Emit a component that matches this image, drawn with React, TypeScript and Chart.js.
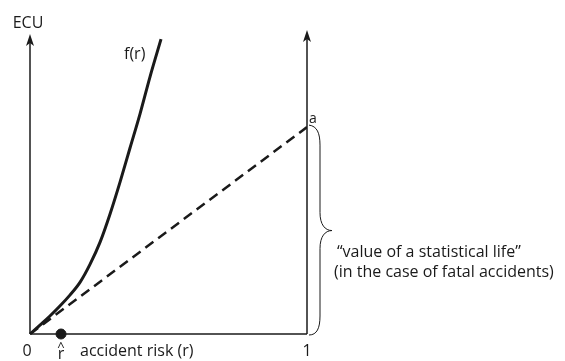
import React, { useEffect, useRef } from "react";
import { Chart, registerables } from "chart.js";

Chart.register(...registerables);

// accident risk r (0..1) and f(r) in ECU (value at r = 1 of the dashed line is "a")
const curveR = [0, 0.036, 0.072, 0.108, 0.144, 0.181, 0.217, 0.253, 0.289, 0.325, 0.361, 0.397, 0.433, 0.473];
const curveF = [0, 0.043, 0.087, 0.135, 0.188, 0.251, 0.338, 0.444, 0.58, 0.734, 0.899, 1.063, 1.242, 1.425];
const lineR = [0, 1];
const lineV = [0, 1.0];
const rHat = [0.112];
const yMax = 1.45;

const FONT = '"Open Sans", "Lato", sans-serif';
const INK = "#1a1a1a";

const decor = {
  id: "decor",
  afterDatasetsDraw(chart: any) {
    const { ctx, chartArea, scales } = chart;
    const L = chartArea.left;
    const R = chartArea.right;
    const B = chartArea.bottom;
    const T = chartArea.top;
    ctx.save();
    ctx.strokeStyle = INK;
    ctx.fillStyle = INK;
    ctx.lineWidth = 1.5;
    ctx.lineCap = "butt";

    const arrow = (x: number, y0: number, tip: number) => {
      ctx.beginPath();
      ctx.moveTo(x, y0);
      ctx.lineTo(x, tip + 6);
      ctx.stroke();
      ctx.beginPath();
      ctx.moveTo(x, tip);
      ctx.lineTo(x - 4, tip + 12);
      ctx.lineTo(x, tip + 9);
      ctx.lineTo(x + 4, tip + 12);
      ctx.closePath();
      ctx.fill();
    };
    arrow(L, B, T);
    arrow(R, B, T - 4);
    ctx.beginPath();
    ctx.moveTo(L, B);
    ctx.lineTo(R, B);
    ctx.stroke();

    // brace from a down to 0
    const yA = scales.y.getPixelForValue(lineV[1]);
    const yM = (yA + B) / 2;
    ctx.lineWidth = 1;
    ctx.beginPath();
    ctx.moveTo(R + 2, yA - 2);
    ctx.bezierCurveTo(R + 10, yA - 1, R + 13, yA + 6, R + 13, yA + 18);
    ctx.lineTo(R + 13, yM - 18);
    ctx.bezierCurveTo(R + 13, yM - 6, R + 18, yM, R + 25, yM);
    ctx.bezierCurveTo(R + 18, yM, R + 13, yM + 6, R + 13, yM + 18);
    ctx.lineTo(R + 13, B - 18);
    ctx.bezierCurveTo(R + 13, B - 6, R + 10, B + 1, R + 2, B + 1);
    ctx.stroke();

    // texts
    ctx.textBaseline = "alphabetic";
    ctx.textAlign = "center";
    ctx.font = `16px ${FONT}`;
    ctx.fillText("ECU", L - 2, 28);
    ctx.fillText("0", L - 3, 356);
    ctx.fillText("1", R, 356);
    const xr = scales.x.getPixelForValue(rHat[0]);
    ctx.fillText("r", xr, 359);
    ctx.font = `13px ${FONT}`;
    ctx.fillText("^", xr, 351);
    ctx.textAlign = "left";
    ctx.font = `16px ${FONT}`;
    ctx.fillText("accident risk (r)", 80, 356);
    ctx.fillText("f(r)", 124, 59);
    ctx.fillText("\u201Cvalue of a statistical life\u201D", 337, 257);
    ctx.fillText("(in the case of fatal accidents)", 334, 277);
    ctx.font = `14px ${FONT}`;
    ctx.fillText("a", R + 2, yA - 4);
    ctx.restore();
  },
};

export default function App() {
  const ref = useRef<HTMLCanvasElement>(null);
  useEffect(() => {
    document.body.style.margin = "0";
    const chart = new Chart(ref.current!, {
      type: "line",
      data: {
        datasets: [
          {
            data: curveR.map((r, i) => ({ x: r, y: curveF[i] })),
            borderColor: INK,
            borderWidth: 3,
            pointRadius: 0,
            cubicInterpolationMode: "monotone",
            clip: false as any,
          },
          {
            data: lineR.map((r, i) => ({ x: r, y: lineV[i] })),
            borderColor: INK,
            borderWidth: 2.5,
            borderDash: [10, 6],
            pointRadius: 0,
          },
          {
            type: "scatter",
            data: rHat.map((r) => ({ x: r, y: 0 })),
            backgroundColor: INK,
            borderColor: INK,
            pointRadius: 5,
            clip: false as any,
          } as any,
        ],
      },
      options: {
        animation: false,
        responsive: true,
        maintainAspectRatio: false,
        layout: { padding: { left: 30, top: 34, right: 258, bottom: 27 } },
        scales: {
          x: { type: "linear", min: 0, max: 1, display: false },
          y: { type: "linear", min: 0, max: yMax, display: false },
        },
        plugins: { legend: { display: false }, tooltip: { enabled: false } },
      },
      plugins: [decor],
    });
    return () => chart.destroy();
  }, []);
  return (
    <div style={{ position: "fixed", left: 0, top: 0, width: 565, height: 361, background: "#fff" }}>
      <canvas ref={ref} />
    </div>
  );
}
